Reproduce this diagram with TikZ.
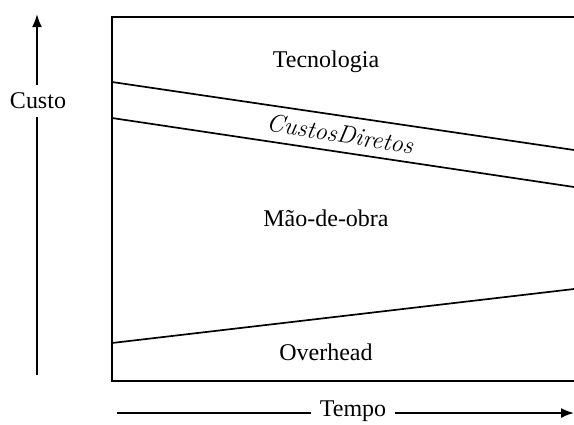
\documentclass[tikz,border=0pt]{standalone}
\usepackage{fontspec}
\setmainfont{Liberation Serif}
\newfontfamily\cdfont{Latin Modern Roman}
\usetikzlibrary{arrows.meta,calc}
\begin{document}
\begin{tikzpicture}[x=1pt,y=-1pt,
  lbl/.style={font=\fontsize{24}{28}\selectfont, inner sep=3pt},
  boundary/.style={line width=1.7pt},
  axis/.style={line width=1.8pt},
  tip/.style={-{Latex[length=13pt,width=10pt]}}]
\useasboundingbox (0,0) rectangle (574,424);
\clip (0,0) rectangle (574,424);

% frame (open to the right)
\draw[line width=2.2pt] (112,17) rectangle (590,381);

% boundaries between cost layers
\coordinate (a1) at (112,82);  \coordinate (a2) at (574,150);
\coordinate (b1) at (112,118); \coordinate (b2) at (574,187);
\coordinate (c1) at (112,343); \coordinate (c2) at (574,289);
\draw[boundary] (a1) -- ($(a1)!1.05!(a2)$);
\draw[boundary] (b1) -- ($(b1)!1.05!(b2)$);
\draw[boundary] (c1) -- ($(c1)!1.05!(c2)$);

% layer labels
\node[lbl] (tec) at (326,62) {Tecnologia};
\node[lbl] (mdo) at (326,218) {Mão-de-obra};
\node[lbl] (ovh) at (326,352) {Overhead};
\node[font=\fontsize{25}{28}\cdfont\itshape, rotate=-9, inner sep=0pt] (cd) at (340,134) {CustosDiretos};

% vertical axis
\node[lbl, inner ysep=8pt] (custo) at (38,101) {Custo};
\coordinate (ybot) at (37,375);
\coordinate (ytop) at (37,14);
\draw[axis] (ybot) -- (ybot |- custo.south);
\draw[axis,tip] (ytop |- custo.north) -- (ytop);

% horizontal axis
\node[lbl, inner xsep=9pt] (tempo) at (353,411) {Tempo};
\coordinate (xl) at (117,413);
\coordinate (xr) at (574,413);
\draw[axis] (xl) -- (tempo.west |- xl);
\draw[axis,tip] (tempo.east |- xr) -- (xr);
\end{tikzpicture}
\end{document}
